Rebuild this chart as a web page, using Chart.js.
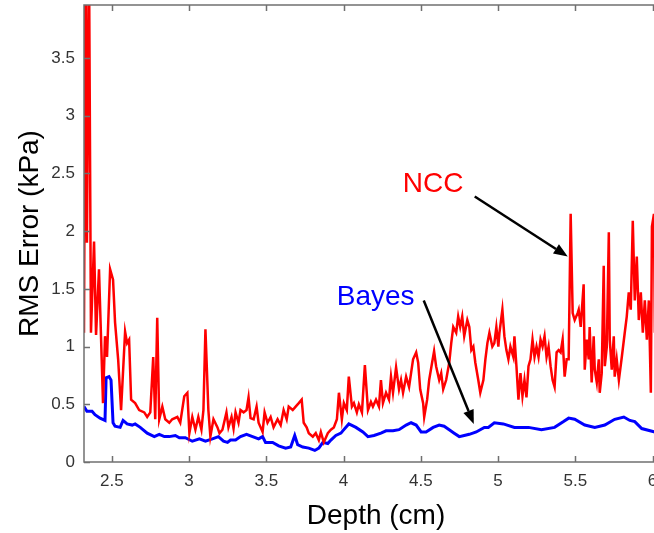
<!DOCTYPE html>
<html>
<head>
<meta charset="utf-8">
<script src="https://cdn.jsdelivr.net/npm/chart.js@4.4.1/dist/chart.umd.min.js"></script>
<style>
  html, body { margin: 0; padding: 0; background: #fff; overflow: hidden; }
  #wrap { width: 654px; height: 533px; overflow: hidden; }
</style>
</head>
<body>
<div id="wrap"><canvas id="chart" width="680" height="533"></canvas></div>
<script>
// NCC error curve (depth in cm, RMS error in kPa)
const nccDepth = [2.320, 2.330, 2.339, 2.352, 2.365, 2.385, 2.398, 2.417, 2.443, 2.456,
  2.469, 2.489, 2.508, 2.521, 2.541, 2.560, 2.586, 2.599, 2.612, 2.625,
  2.651, 2.677, 2.710, 2.729, 2.749, 2.768, 2.781, 2.794, 2.807, 2.827,
  2.846, 2.872, 2.891, 2.924, 2.943, 2.969, 2.989, 3.002, 3.021, 3.041,
  3.060, 3.080, 3.093, 3.106, 3.125, 3.138, 3.158, 3.184, 3.197, 3.216,
  3.242, 3.255, 3.275, 3.288, 3.301, 3.320, 3.333, 3.353, 3.372, 3.385,
  3.398, 3.418, 3.437, 3.450, 3.476, 3.489, 3.508, 3.528, 3.547, 3.573,
  3.593, 3.612, 3.632, 3.645, 3.671, 3.690, 3.710, 3.729, 3.742, 3.761,
  3.775, 3.801, 3.820, 3.840, 3.853, 3.872, 3.898, 3.918, 3.937, 3.957,
  3.970, 3.989, 4.002, 4.021, 4.034, 4.054, 4.067, 4.086, 4.099, 4.119,
  4.138, 4.158, 4.177, 4.190, 4.210, 4.229, 4.242, 4.255, 4.275, 4.294,
  4.307, 4.320, 4.340, 4.359, 4.372, 4.385, 4.405, 4.424, 4.437, 4.450,
  4.470, 4.483, 4.496, 4.515, 4.522, 4.541, 4.554, 4.573, 4.586, 4.599,
  4.619, 4.632, 4.645, 4.664, 4.684, 4.697, 4.710, 4.729, 4.742, 4.755,
  4.768, 4.781, 4.801, 4.814, 4.827, 4.840, 4.853, 4.872, 4.885, 4.905,
  4.918, 4.931, 4.944, 4.963, 4.976, 4.989, 5.002, 5.009, 5.028, 5.041,
  5.054, 5.067, 5.080, 5.099, 5.106, 5.119, 5.132, 5.145, 5.158, 5.171,
  5.184, 5.197, 5.210, 5.223, 5.236, 5.249, 5.262, 5.275, 5.288, 5.301,
  5.314, 5.327, 5.340, 5.353, 5.366, 5.379, 5.392, 5.405, 5.418, 5.431,
  5.444, 5.457, 5.470, 5.483, 5.496, 5.515, 5.522, 5.535, 5.554, 5.561,
  5.574, 5.587, 5.593, 5.606, 5.619, 5.626, 5.639, 5.652, 5.658, 5.671,
  5.684, 5.691, 5.704, 5.717, 5.723, 5.736, 5.749, 5.755, 5.768, 5.782,
  5.801, 5.820, 5.833, 5.846, 5.859, 5.872, 5.885, 5.898, 5.911, 5.924,
  5.937, 5.950, 5.963, 5.976, 5.989, 5.996, 6.009, 6.015];
const nccRms = [1.12, 4.5, 1.9, 4.5, 1.12, 1.91, 1.10, 1.67, 0.51, 1.09,
  0.91, 1.67, 1.58, 1.21, 0.89, 0.45, 1.13, 1.03, 1.06, 0.54,
  0.51, 0.45, 0.43, 0.39, 0.43, 0.91, 0.37, 1.25, 0.37, 0.48,
  0.37, 0.34, 0.37, 0.39, 0.34, 0.57, 0.60, 0.25, 0.39, 0.28,
  0.39, 0.28, 0.45, 1.15, 0.45, 0.22, 0.37, 0.30, 0.25, 0.28,
  0.43, 0.30, 0.39, 0.29, 0.43, 0.34, 0.45, 0.43, 0.45, 0.56,
  0.38, 0.37, 0.48, 0.34, 0.26, 0.43, 0.34, 0.39, 0.30, 0.37,
  0.32, 0.45, 0.37, 0.48, 0.45, 0.48, 0.51, 0.54, 0.34, 0.30,
  0.25, 0.22, 0.25, 0.19, 0.26, 0.17, 0.25, 0.28, 0.30, 0.37,
  0.60, 0.37, 0.51, 0.45, 0.74, 0.48, 0.51, 0.43, 0.50, 0.43,
  0.84, 0.45, 0.52, 0.48, 0.54, 0.48, 0.71, 0.51, 0.60, 0.54,
  0.74, 0.60, 0.82, 0.63, 0.71, 0.60, 0.74, 0.65, 0.77, 0.89,
  0.95, 0.86, 0.63, 0.51, 0.39, 0.54, 0.71, 0.86, 0.96, 0.83,
  0.71, 0.77, 0.63, 0.71, 0.86, 1.03, 1.17, 1.12, 1.26, 1.17,
  1.26, 1.09, 1.23, 1.17, 0.97, 1.00, 0.86, 0.71, 0.60, 0.71,
  0.89, 1.03, 1.12, 1.00, 1.03, 1.17, 1.00, 1.12, 1.32, 1.09,
  0.97, 0.89, 1.00, 0.91, 1.09, 0.83, 0.54, 0.77, 0.57, 0.71,
  0.56, 0.83, 0.89, 1.06, 0.91, 1.00, 0.91, 1.06, 1.00, 1.09,
  0.91, 1.00, 0.83, 0.71, 0.65, 0.95, 0.97, 0.95, 1.06, 0.74,
  0.89, 0.89, 2.15, 1.29, 1.23, 1.29, 1.32, 1.17, 1.54, 0.80,
  1.06, 0.89, 1.17, 0.69, 1.09, 0.80, 0.69, 0.89, 0.60, 0.77,
  1.70, 0.83, 1.00, 1.99, 1.06, 0.80, 1.09, 0.74, 0.89, 0.71,
  0.91, 1.12, 1.26, 1.47, 1.32, 2.09, 1.40, 1.78, 1.23, 1.47,
  1.12, 1.40, 1.06, 1.40, 0.60, 2.04, 2.15, 1.12];

// Bayes error curve
const bayesDepth = [2.320, 2.339, 2.372, 2.391, 2.424, 2.456, 2.463, 2.482, 2.495, 2.508,
  2.521, 2.554, 2.573, 2.599, 2.632, 2.651, 2.684, 2.729, 2.775, 2.807,
  2.840, 2.872, 2.911, 2.937, 2.976, 3.021, 3.067, 3.106, 3.151, 3.190,
  3.223, 3.249, 3.268, 3.301, 3.333, 3.372, 3.411, 3.450, 3.476, 3.495,
  3.541, 3.580, 3.625, 3.658, 3.684, 3.703, 3.736, 3.775, 3.814, 3.840,
  3.866, 3.898, 3.918, 3.950, 3.983, 3.995, 4.034, 4.080, 4.125, 4.158,
  4.197, 4.242, 4.275, 4.320, 4.359, 4.405, 4.437, 4.470, 4.502, 4.534,
  4.580, 4.619, 4.651, 4.684, 4.716, 4.749, 4.781, 4.814, 4.859, 4.911,
  4.937, 4.976, 5.034, 5.106, 5.197, 5.281, 5.366, 5.424, 5.457, 5.496,
  5.561, 5.626, 5.691, 5.755, 5.814, 5.853, 5.885, 5.930, 6.015];
const bayesRms = [0.48, 0.44, 0.44, 0.41, 0.38, 0.36, 0.73, 0.74, 0.71, 0.34,
  0.31, 0.30, 0.36, 0.33, 0.32, 0.33, 0.30, 0.25, 0.22, 0.24,
  0.22, 0.22, 0.23, 0.21, 0.21, 0.18, 0.20, 0.18, 0.20, 0.22,
  0.18, 0.17, 0.19, 0.19, 0.22, 0.24, 0.22, 0.20, 0.22, 0.17,
  0.17, 0.14, 0.12, 0.13, 0.23, 0.15, 0.13, 0.12, 0.10, 0.12,
  0.17, 0.16, 0.19, 0.23, 0.25, 0.27, 0.33, 0.30, 0.26, 0.22,
  0.23, 0.25, 0.27, 0.27, 0.28, 0.32, 0.34, 0.32, 0.26, 0.26,
  0.30, 0.32, 0.31, 0.28, 0.25, 0.22, 0.23, 0.24, 0.26, 0.30,
  0.30, 0.34, 0.33, 0.30, 0.30, 0.28, 0.30, 0.35, 0.38, 0.37,
  0.32, 0.30, 0.32, 0.37, 0.39, 0.36, 0.35, 0.29, 0.26];

const xTicks = [2.5, 3, 3.5, 4, 4.5, 5, 5.5, 6];
const yTicks = [0, 0.5, 1, 1.5, 2, 2.5, 3, 3.5];

// text labels with arrows, in data units
const notes = [
  { text: 'NCC', color: '#ff0000', x: 4.383, y: 2.34, from: [4.849, 2.30], to: [5.451, 1.78] },
  { text: 'Bayes', color: '#0000ff', x: 3.956, y: 1.36, from: [4.519, 1.40], to: [4.843, 0.33] }
];

const FONT = '"Liberation Sans", Arial, sans-serif';
const AXIS_COLOR = '#707070';

const toPoints = (xs, ys) => xs.map((x, i) => ({ x, y: ys[i] }));

// box around the plot with inward tick marks (matlab style)
const axesBox = {
  id: 'axesBox',
  afterDatasetsDraw(chart) {
    const { ctx, chartArea: a, scales: { x, y } } = chart;
    ctx.save();
    ctx.strokeStyle = AXIS_COLOR;
    ctx.lineWidth = 1.5;
    ctx.beginPath();
    ctx.moveTo(a.right, a.top);
    ctx.lineTo(a.left, a.top);
    ctx.lineTo(a.left, a.bottom);
    ctx.lineTo(a.right, a.bottom);
    xTicks.forEach(v => {
      const px = Math.round(x.getPixelForValue(v)) + 0.5;
      ctx.moveTo(px, a.bottom); ctx.lineTo(px, a.bottom - 6);
      ctx.moveTo(px, a.top); ctx.lineTo(px, a.top + 6);
    });
    yTicks.forEach(v => {
      const py = Math.round(y.getPixelForValue(v)) + 0.5;
      ctx.moveTo(a.left, py); ctx.lineTo(a.left + 6, py);
    });
    ctx.stroke();
    ctx.restore();
  }
};

const arrowNotes = {
  id: 'arrowNotes',
  afterDraw(chart) {
    const { ctx, scales: { x, y } } = chart;
    ctx.save();
    notes.forEach(n => {
      ctx.font = '28px ' + FONT;
      ctx.fillStyle = n.color;
      ctx.textBaseline = 'alphabetic';
      ctx.fillText(n.text, x.getPixelForValue(n.x), y.getPixelForValue(n.y));

      const x0 = x.getPixelForValue(n.from[0]), y0 = y.getPixelForValue(n.from[1]);
      const x1 = x.getPixelForValue(n.to[0]), y1 = y.getPixelForValue(n.to[1]);
      const ang = Math.atan2(y1 - y0, x1 - x0);
      const head = 14, half = 5.5;
      const bx = x1 - head * Math.cos(ang), by = y1 - head * Math.sin(ang);
      ctx.strokeStyle = '#000';
      ctx.fillStyle = '#000';
      ctx.lineWidth = 2.5;
      ctx.beginPath();
      ctx.moveTo(x0, y0);
      ctx.lineTo(bx, by);
      ctx.stroke();
      ctx.beginPath();
      ctx.moveTo(x1, y1);
      ctx.lineTo(bx + half * Math.sin(ang), by - half * Math.cos(ang));
      ctx.lineTo(bx - half * Math.sin(ang), by + half * Math.cos(ang));
      ctx.closePath();
      ctx.fill();
    });
    ctx.restore();
  }
};

new Chart(document.getElementById('chart').getContext('2d'), {
  type: 'line',
  data: {
    datasets: [
      {
        label: 'NCC',
        data: toPoints(nccDepth, nccRms),
        borderColor: '#ff0000',
        borderWidth: 2.5,
        pointRadius: 0,
        tension: 0,
        clip: 0
      },
      {
        label: 'Bayes',
        data: toPoints(bayesDepth, bayesRms),
        borderColor: '#0000ff',
        borderWidth: 3,
        pointRadius: 0,
        tension: 0,
        clip: 0
      }
    ]
  },
  options: {
    responsive: false,
    animation: false,
    layout: { padding: { left: 0, right: 12, top: 5, bottom: 0 } },
    plugins: {
      legend: { display: false },
      tooltip: { enabled: false }
    },
    scales: {
      x: {
        type: 'linear',
        min: 2.32,
        max: 6.1,
        afterFit: s => { s.height = 71; s.paddingLeft = 0; s.paddingRight = 0; },
        afterBuildTicks: s => { s.ticks = xTicks.map(v => ({ value: v })); },
        grid: { display: false, drawTicks: false },
        border: { display: false },
        ticks: {
          padding: 9,
          color: '#333',
          font: { family: FONT, size: 17 },
          callback: v => String(v)
        },
        title: {
          display: true,
          text: 'Depth (cm)',
          color: '#000',
          font: { family: FONT, size: 28 },
          padding: { top: 0, bottom: 0 }
        }
      },
      y: {
        min: 0,
        max: 3.96,
        afterFit: s => { s.width = 84; s.paddingTop = 0; s.paddingBottom = 0; },
        afterBuildTicks: s => { s.ticks = yTicks.map(v => ({ value: v })); },
        grid: { display: false, drawTicks: false },
        border: { display: false },
        ticks: {
          padding: 9,
          color: '#333',
          font: { family: FONT, size: 17 },
          callback: v => String(v)
        },
        title: {
          display: true,
          text: 'RMS Error (kPa)',
          color: '#000',
          font: { family: FONT, size: 28 },
          padding: { top: 13, bottom: 0 }
        }
      }
    }
  },
  plugins: [axesBox, arrowNotes]
});
</script>
</body>
</html>
